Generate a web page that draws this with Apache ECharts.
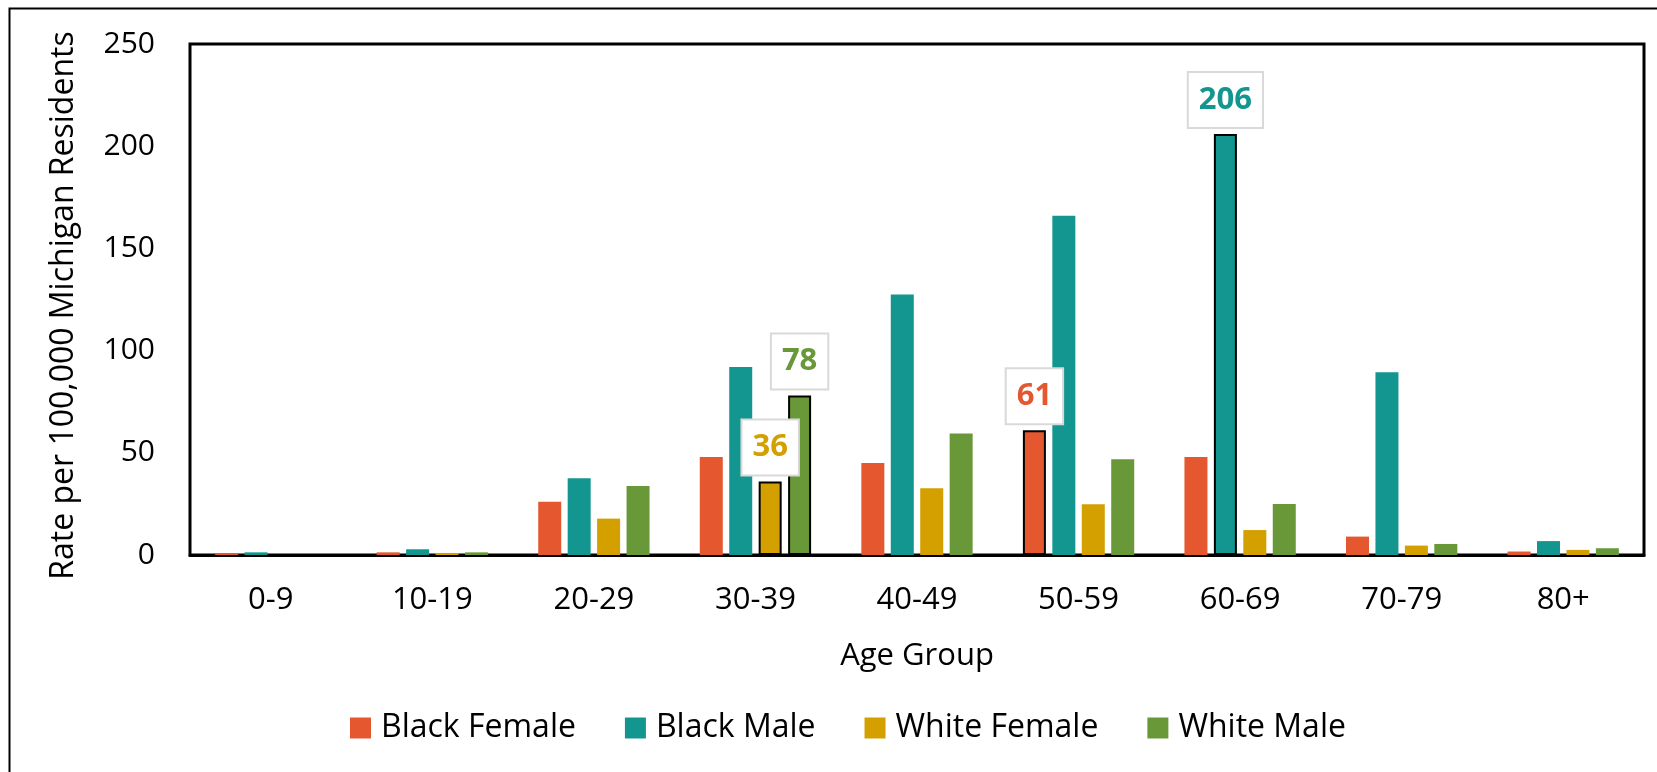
<!DOCTYPE html>
<html>
<head>
<meta charset="utf-8">
<script src="https://cdn.jsdelivr.net/npm/echarts@6/dist/echarts.min.js"></script>
<style>
html,body{margin:0;padding:0;background:#fff;}
#chart{width:1657px;height:772px;}
</style>
</head>
<body>
<div id="chart"></div>
<script>
const categories = ['0-9','10-19','20-29','30-39','40-49','50-59','60-69','70-79','80+'];
const seriesNames = ['Black Female','Black Male','White Female','White Male'];
const blackFemale = [0.8, 1.3, 26, 48, 45, 61, 48, 9, 1.7];
const blackMale = [1.3, 2.8, 37.5, 92, 127.5, 166, 206, 89.4, 6.8];
const whiteFemale = [0, 1.0, 17.8, 36, 32.6, 24.8, 12.2, 4.6, 2.5];
const whiteMale = [0, 1.3, 33.8, 78, 59.5, 46.8, 25, 5.4, 3.3];
const yTicks = [0, 50, 100, 150, 200, 250];
// [series index, category index] of bars that are outlined and labelled
const highlighted = [[0,5],[1,6],[2,3],[3,3]];

const colors = ['#E4572F','#13968F','#D3A000','#689838'];
const values = [blackFemale, blackMale, whiteFemale, whiteMale];
const FONT = 'Open Sans';

function buildData(si){
  return values[si].map((v, ci) => {
    const hl = highlighted.some(h => h[0] === si && h[1] === ci);
    if (!hl) return v;
    return {
      value: v,
      itemStyle: {borderColor: '#000', borderWidth: 2},
      label: {
        show: true, position: 'top', distance: 7,
        formatter: p => Math.round(p.value),
        color: colors[si], fontFamily: FONT, fontWeight: 'bold', fontSize: 31,
        backgroundColor: '#fff', borderColor: '#D9D9D9', borderWidth: 2,
        padding: [11, 10, 11, 10], lineHeight: 32
      }
    };
  });
}

const chart = echarts.init(document.getElementById('chart'), null, {renderer: 'canvas'});
chart.setOption({
  animation: false,
  backgroundColor: '#fff',
  color: colors,
  graphic: [{
    type: 'rect', left: 7, top: 6, z: 100, silent: true,
    shape: {x: 0, y: 0, width: 1700, height: 800},
    style: {fill: 'none', stroke: '#000', lineWidth: 2}
  }],
  grid: {left: 190, top: 44, right: 13, bottom: 217, show: true, borderColor: '#000', borderWidth: 3, backgroundColor: 'transparent'},
  legend: {
    left: 350, top: 712, padding: 0, itemWidth: 21, itemHeight: 21, itemGap: 49, icon: 'rect',
    data: seriesNames,
    textStyle: {fontFamily: FONT, fontSize: 32, color: '#000', padding: [0,0,0,5]}
  },
  xAxis: {
    type: 'category', data: categories,
    axisLine: {show: true, lineStyle: {color: '#000', width: 3}},
    axisTick: {show: false},
    axisLabel: {fontFamily: FONT, fontSize: 31, color: '#000', margin: 30},
    name: 'Age Group', nameLocation: 'middle', nameGap: 86,
    nameTextStyle: {fontFamily: FONT, fontSize: 31, color: '#000'}
  },
  yAxis: {
    type: 'value', min: yTicks[0], max: yTicks[yTicks.length-1], interval: 50,
    splitLine: {show: false},
    axisLine: {show: false}, axisTick: {show: false},
    axisLabel: {fontFamily: FONT, fontSize: 30, color: '#000', margin: 35},
    name: 'Rate per 100,000 Michigan Residents', nameLocation: 'middle', nameGap: 110,
    nameTextStyle: {fontFamily: FONT, fontSize: 32, color: '#000', padding: [0, 12, 0, 0]}
  },
  series: seriesNames.map((n, si) => ({
    name: n, type: 'bar', data: buildData(si),
    barWidth: 23, barGap: '28%',
    itemStyle: {color: colors[si]}
  }))
});
</script>
</body>
</html>
